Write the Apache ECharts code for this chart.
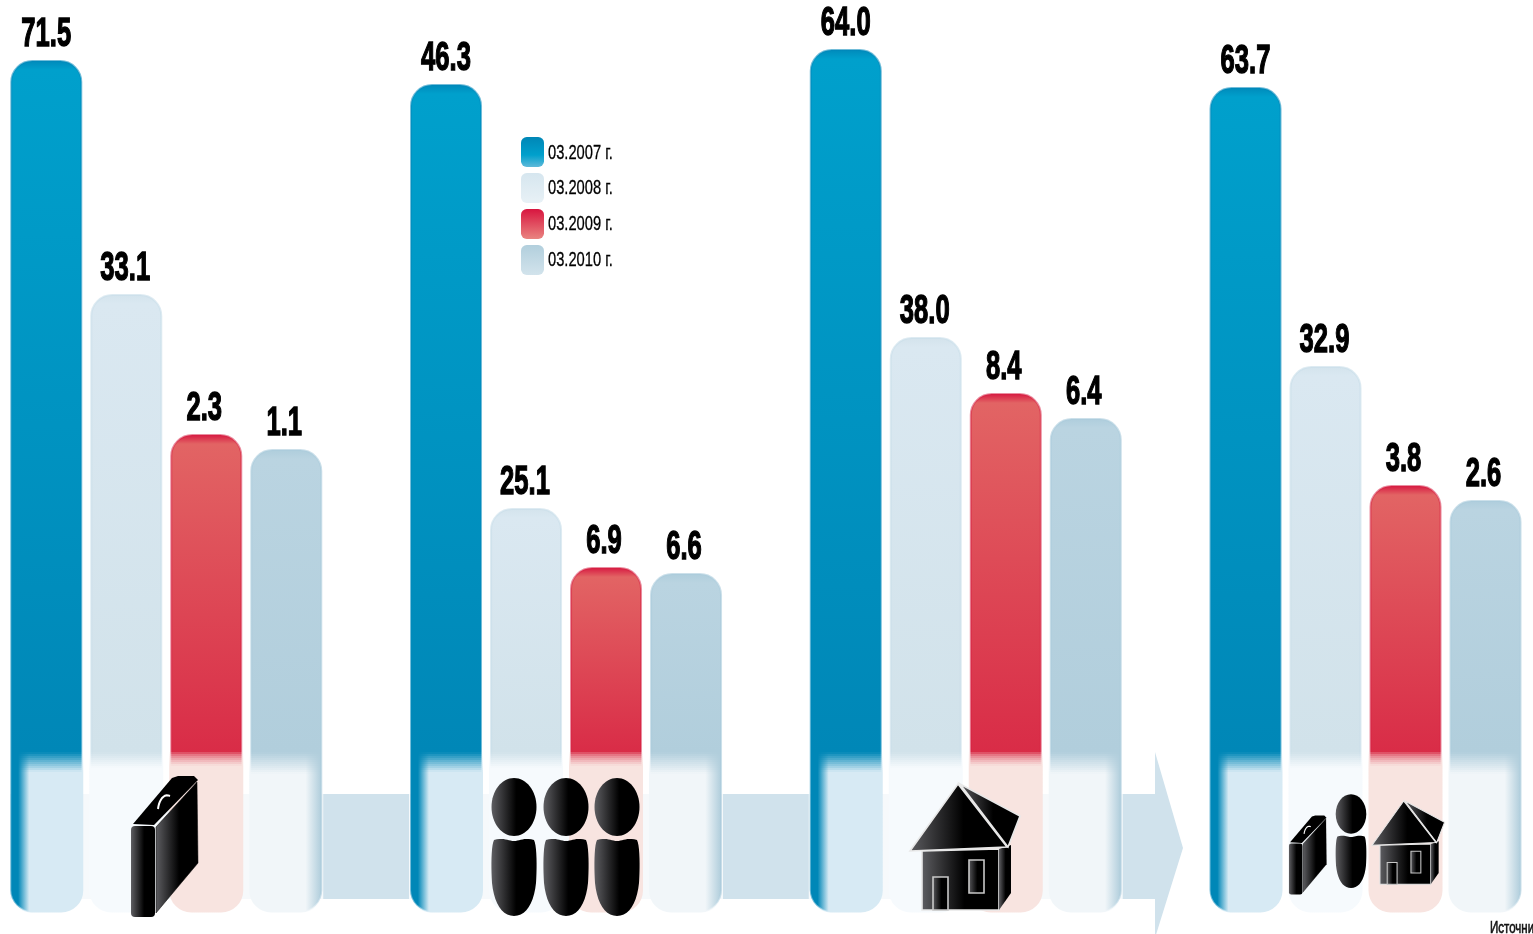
<!DOCTYPE html>
<html><head><meta charset="utf-8">
<style>html,body{margin:0;padding:0;background:#fff;overflow:hidden}#c{width:1533px;height:934px}</style>
<script src="https://cdn.jsdelivr.net/npm/echarts@6/dist/echarts.min.js"></script>
</head><body><div id="c"></div>
<script>
const categories = ['Предприятия', 'Население', 'Ипотека', 'Всего'];
const seriesNames = ['03.2007 г.', '03.2008 г.', '03.2009 г.', '03.2010 г.'];
// printed values
const values2007 = [71.5, 46.3, 64.0, 63.7];
const values2008 = [33.1, 25.1, 38.0, 32.9];
const values2009 = [2.3, 6.9, 8.4, 3.8];
const values2010 = [1.1, 6.6, 6.4, 2.6];
// drawn bar heights (the original is not drawn to scale)
const levels2007 = [852, 828, 863, 825];
const levels2008 = [618, 404, 575, 546];
const levels2009 = [478, 345, 519, 427];
const levels2010 = [463, 339, 494, 412];

const allValues = [values2007, values2008, values2009, values2010];
const allLevels = [levels2007, levels2008, levels2009, levels2010];
const AXIS_MAX = 912;
const grad = (stops, horiz) => ({type:'linear',x:0,y:0,x2:horiz?1:0,y2:horiz?0:1,
  colorStops:stops.map(s=>({offset:s[0],color:s[1]}))});

const palettes = [
  {edge:'#0088b9', inner:'#00a0cc', low:'#0087b7', border:'rgba(0,135,185,.55)', legend:[[0,'#0086b6'],[.6,'#00a0cc'],[1,'#5fb9d9']]},
  {edge:'#d3e3ec', inner:'#dae8f1', low:'#d1e2ea', border:'rgba(200,222,233,.6)', legend:[[0,'#d6e6ef'],[1,'#e8f1f6']]},
  {edge:'#d6143f', inner:'#e26464', low:'#d92c47', border:'rgba(214,30,65,.5)', legend:[[0,'#d8153f'],[1,'#e98480']]},
  {edge:'#aecddc', inner:'#bad4e1', low:'#b1cedc', border:'rgba(170,203,220,.6)', legend:[[0,'#b2cfdd'],[1,'#d2e3ec']]}
];
const FADE_START = 160; // height above the axis where the bars' pale feet begin
const series = seriesNames.map((name,s)=>({
  name, type:'bar', barWidth:72, barGap:'11.11%', z:2,
  itemStyle:{color:grad(palettes[s].legend)},
  data:allLevels[s].map(h=>({value:h,
    itemStyle:{borderRadius:21, borderColor:palettes[s].border, borderWidth:2,
      color:grad([[0,palettes[s].edge],[Math.min(10/h,.1),palettes[s].inner],[(h-FADE_START)/h,palettes[s].low],[1,palettes[s].low]])}}))
}));
// value labels: condensed heavy type needs a horizontal squeeze, so a custom series places them
const BAND = 80;
const labelNudge = [0,-1,-2,-2];
seriesNames.forEach((name,s)=>series.push({
  name:'Значения '+name, type:'custom', z:9, clip:false, silent:true,
  data:allLevels[s].map((h,i)=>[i,h,allValues[s][i]]),
  renderItem:(params,api)=>{
    const p=api.coord([api.value(0),api.value(1)]);
    return {type:'text',x:p[0]+(s-1.5)*BAND+labelNudge[s],y:p[1]-25.5,scaleX:.64,z2:9,
      style:{text:api.value(2).toFixed(1),font:'bold 40px "Liberation Sans"',fill:'#000',
        stroke:'#000',lineWidth:1.4,align:'center',verticalAlign:'middle'}};
  }
}));

// ---- decoration: arrow, wash, bar-foot fades, icons ----
const gfx = [];
gfx.push({type:'polygon',z:0,silent:true,shape:{points:[[10,794],[1155,794],[1155,752],[1183,848],[1155,938],[1155,899],[10,899]]},style:{fill:'#d0e2ec'}});
const groupX = [9.25,409,808.75,1208.5];
const BAR_W = 74, STEP = 80, FOOT = 912.5, R = 22;
const feet = [
  {rgb:'215,234,244', mask:[[0,0],[.12,0],[.27,1],[1,1]], top:752, end:772, pow:1},
  {rgb:'246,250,253', mask:[[0,1],[1,1]], top:752, end:768, pow:1},
  {rgb:'248,228,224', mask:[[0,1],[1,1]], top:752, end:766, pow:.6},
  {rgb:'241,246,249', mask:[[0,1],[.76,1],[.97,0],[1,0]], top:752, end:774, pow:1}
];
function rowFill(f,a){return grad(f.mask.map(m=>[m[0],`rgba(${f.rgb},${(m[1]*a).toFixed(3)})`]),true);}
groupX.forEach(gx=>{
  gfx.push({type:'rect',z:1,silent:true,shape:{x:gx,y:794,width:314,height:105},style:{fill:'rgba(255,255,255,.8)'}});
  feet.forEach((f,b)=>{
    const x=gx+b*STEP;
    for(let y=f.top;y<f.end;y+=2){
      const t=(y-f.top+1)/(f.end-f.top), a=Math.pow(t,f.pow);
      gfx.push({type:'rect',z:5,silent:true,shape:{x,y,width:BAR_W,height:2},style:{fill:rowFill(f,a)}});
    }
    gfx.push({type:'rect',z:5,silent:true,shape:{x,y:f.end,width:BAR_W,height:FOOT-f.end,r:[0,0,R,R]},style:{fill:rowFill(f,1)}});
  });
});
const dark = grad([[0,'#5e5e62'],[.55,'#000'],[1,'#000']],true);
function curve(p0,segs){
  const pts=[p0]; let p=p0;
  segs.forEach(c=>{
    for(let i=1;i<=10;i++){
      const t=i/10,u=1-t;
      pts.push([u*u*u*p[0]+3*u*u*t*c[0]+3*u*t*t*c[2]+t*t*t*c[4],u*u*u*p[1]+3*u*u*t*c[1]+3*u*t*t*c[3]+t*t*t*c[5]]);
    }
    p=[c[4],c[5]];
  });
  return pts;
}
const bodyOutline = curve([-20,33],[[-10,30,-6,34,0,34],[6,34,10,30,20,33],[23,39,23,61,22,76],[20,96,12,109,0,109],[-12,109,-20,96,-22,76],[-23,61,-23,39,-20,33]]);
const handleLine = curve([170,796],[[164,793,159,800,158,809]]);
function briefcase(tx,ty,s){
  return {type:'group',x:tx,y:ty,scaleX:s,scaleY:s,silent:true,children:[
    {type:'polygon',z:6,shape:{points:[[133,824],[172,778],[178,776],[194,776],[198,780],[154,825]]},style:{fill:'#000'}},
    {type:'polyline',z:7,shape:{points:handleLine},style:{fill:'none',stroke:'#fff',lineWidth:2}},
    {type:'polygon',z:6,shape:{points:[[156,827],[197,782],[198,863],[156,913]]},style:{fill:dark,stroke:'#000',lineWidth:.5}},
    {type:'rect',z:6,shape:{x:131,y:826,width:24,height:91,r:4},style:{fill:dark}}
  ]};
}
function person(tx,ty,s){
  return {type:'group',x:tx,y:ty,scaleX:s,scaleY:s,silent:true,children:[
    {type:'ellipse',z:6,shape:{cx:0,cy:0,rx:22.5,ry:29},style:{fill:dark}},
    {type:'polygon',z:6,shape:{points:bodyOutline},style:{fill:dark}}
  ]};
}
function house(tx,ty,s){
  const ln={stroke:'#e8e8e8',lineWidth:1.6};
  return {type:'group',x:tx,y:ty,scaleX:s,scaleY:s,silent:true,children:[
    {type:'polygon',z:6,shape:{points:[[922,851],[999,849],[999,910],[922,910]]},style:Object.assign({fill:dark},ln)},
    {type:'polygon',z:6,shape:{points:[[999,849],[1011,845],[1011,893],[999,910]]},style:{fill:dark}},
    {type:'rect',z:7,shape:{x:933,y:877,width:15,height:33},style:{fill:dark,stroke:'#c8c8c8',lineWidth:1.6}},
    {type:'rect',z:7,shape:{x:969,y:860,width:15,height:33},style:{fill:dark,stroke:'#c8c8c8',lineWidth:1.6}},
    {type:'polygon',z:8,shape:{points:[[960,784],[1020,816],[1008,847]]},style:Object.assign({fill:dark},ln)},
    {type:'polygon',z:8,shape:{points:[[910,851],[958,784],[1007,847]]},style:Object.assign({fill:dark},ln)}
  ]};
}
gfx.push(briefcase(0,0,1));
[514,566,617].forEach(x=>gfx.push(person(x,807,1)));
gfx.push(house(0,0,1));
gfx.push(briefcase(1215.6,380.9,.56));
gfx.push(person(1351,814,.68));
gfx.push(house(771.4,283.6,.66));
gfx.push({type:'text',z:6,x:1490,y:921,scaleX:.72,silent:true,style:{text:'Источник:',font:'16px "Liberation Sans"',fill:'#111',stroke:'#111',lineWidth:.6}});
// legend captions (condensed)
seriesNames.forEach((n,i)=>gfx.push({type:'text',z:6,x:548,y:[153,188,224,260][i],scaleX:.7,silent:true,
  style:{text:n,font:'21px "Liberation Sans"',fill:'#000',stroke:'#000',lineWidth:.3,verticalAlign:'middle'}}));

const chart = echarts.init(document.getElementById('c'),null,{renderer:'canvas'});
chart.setOption({
  animation:false, backgroundColor:'#fff',
  grid:{left:-33.6,top:0,width:1599,height:AXIS_MAX,containLabel:false,outerBoundsMode:'none'},
  xAxis:{type:'category',data:categories,show:false},
  yAxis:{type:'value',min:0,max:AXIS_MAX,show:false},
  legend:{orient:'vertical',left:521,top:137,padding:0,itemWidth:23,itemHeight:30,itemGap:6,icon:'roundRect',selectedMode:false,
    itemStyle:{borderWidth:0},formatter:()=>'',data:seriesNames},
  series, graphic:gfx
});
</script></body></html>
